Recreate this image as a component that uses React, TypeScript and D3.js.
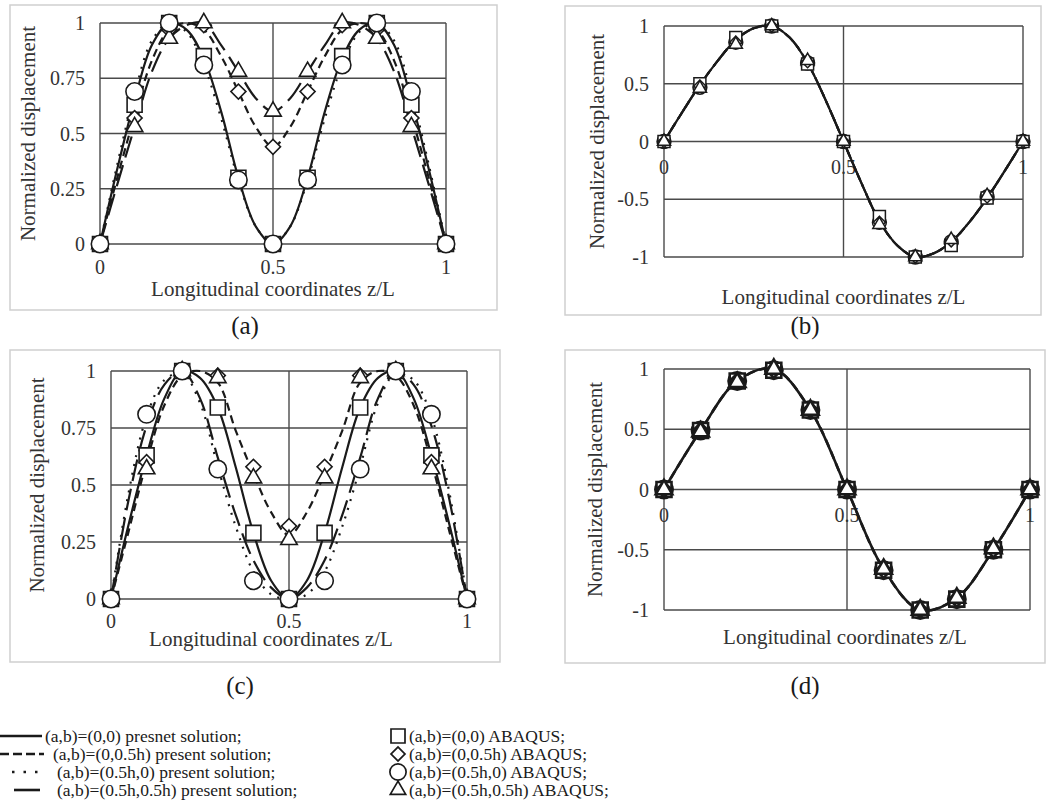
import * as d3 from "d3";

// sample positions along the beam
const xMarks = [0, 0.1, 0.2, 0.3, 0.4, 0.5, 0.6, 0.7, 0.8, 0.9, 1];
const xFine = [0, 0.05, 0.1, 0.15, 0.2, 0.25, 0.3, 0.35, 0.4, 0.45, 0.5, 0.55, 0.6, 0.65, 0.7, 0.75, 0.8, 0.85, 0.9, 0.95, 1];

const xTicks = [0, 0.5, 1];
const xTickLabels = ["0", "0.5", "1"];
const yTicksPos = [0, 0.25, 0.5, 0.75, 1];
const yTickLabelsPos = ["0", "0.25", "0.5", "0.75", "1"];
const yTicksSym = [-1, -0.5, 0, 0.5, 1];
const yTickLabelsSym = ["-1", "-0.5", "0", "0.5", "1"];

// (a) present solution
const aSolid = [0, 0.34, 0.65, 0.9, 1.0, 0.97, 0.84, 0.6, 0.3, 0.08, 0, 0.08, 0.3, 0.6, 0.84, 0.97, 1.0, 0.9, 0.65, 0.34, 0];
const aDashed = [0, 0.3, 0.58, 0.83, 0.97, 1.0, 0.97, 0.85, 0.69, 0.53, 0.44, 0.53, 0.69, 0.85, 0.97, 1.0, 0.97, 0.83, 0.58, 0.3, 0];
const aDotted = [0, 0.36, 0.68, 0.92, 1.0, 0.96, 0.81, 0.57, 0.29, 0.08, 0, 0.08, 0.29, 0.57, 0.81, 0.96, 1.0, 0.92, 0.68, 0.36, 0];
const aLongDash = [0, 0.27, 0.53, 0.78, 0.93, 0.99, 1.0, 0.9, 0.78, 0.66, 0.6, 0.66, 0.78, 0.9, 1.0, 0.99, 0.93, 0.78, 0.53, 0.27, 0];
// (a) ABAQUS
const aSquare = [0, 0.63, 1, 0.85, 0.3, 0, 0.3, 0.85, 1, 0.63, 0];
const aDiamond = [0, 0.57, 0.97, 0.99, 0.69, 0.44, 0.69, 0.99, 0.97, 0.57, 0];
const aCircle = [0, 0.69, 1, 0.81, 0.29, 0, 0.29, 0.81, 1, 0.69, 0];
const aTriangle = [0, 0.53, 0.93, 1, 0.78, 0.6, 0.78, 1, 0.93, 0.53, 0];

// (b) present solution (all four cases coincide)
const bPresent = [0, 0.25, 0.49, 0.7, 0.88, 0.98, 1.0, 0.9, 0.68, 0.36, 0, -0.36, -0.69, -0.9, -1.0, -0.97, -0.87, -0.7, -0.49, -0.25, 0];
// (b) ABAQUS
const bSquare = [0, 0.5, 0.9, 1, 0.67, 0, -0.65, -1, -0.9, -0.49, 0];
const bDiamond = [0, 0.48, 0.86, 1, 0.69, 0, -0.7, -1, -0.86, -0.48, 0];
const bCircle = [0, 0.47, 0.86, 1, 0.68, 0, -0.7, -1, -0.87, -0.48, 0];
const bTriangle = [0, 0.46, 0.84, 1, 0.7, 0, -0.72, -1, -0.85, -0.47, 0];

// (c) present solution
const cSolid = [0, 0.33, 0.63, 0.88, 1.0, 0.97, 0.84, 0.58, 0.29, 0.08, 0, 0.08, 0.29, 0.58, 0.84, 0.97, 1.0, 0.88, 0.63, 0.33, 0];
const cDashed = [0, 0.3, 0.6, 0.85, 0.98, 1.0, 0.95, 0.74, 0.55, 0.38, 0.28, 0.38, 0.55, 0.74, 0.95, 1.0, 0.98, 0.85, 0.6, 0.3, 0];
const cDotted = [0, 0.47, 0.8, 0.96, 0.99, 0.86, 0.58, 0.32, 0.12, 0.02, 0, 0.02, 0.12, 0.32, 0.58, 0.86, 0.99, 0.96, 0.8, 0.47, 0];
const cLongDash = [0, 0.44, 0.76, 0.94, 1.0, 0.88, 0.62, 0.37, 0.17, 0.05, 0, 0.05, 0.17, 0.37, 0.62, 0.88, 1.0, 0.94, 0.76, 0.44, 0];
// (c) ABAQUS
const cSquare = [0, 0.63, 1, 0.84, 0.29, 0, 0.29, 0.84, 1, 0.63, 0];
const cDiamond = [0, 0.6, 1, 0.98, 0.58, 0.32, 0.58, 0.98, 1, 0.6, 0];
const cCircle = [0, 0.81, 1, 0.57, 0.08, 0, 0.08, 0.57, 1, 0.81, 0];
const cTriangle = [0, 0.57, 1, 0.97, 0.53, 0.26, 0.53, 0.97, 1, 0.57, 0];

// (d) present solution
const dPresent = [0, 0.49, 0.9, 1.0, 0.66, 0, -0.66, -1.0, -0.9, -0.5, 0];
// (d) ABAQUS
const dSquare = [0, 0.49, 0.9, 0.99, 0.66, 0, -0.67, -1, -0.91, -0.5, 0];
const dDiamond = [0, 0.49, 0.9, 0.99, 0.66, 0, -0.67, -1, -0.91, -0.5, 0];
const dCircle = [0, 0.49, 0.9, 0.99, 0.66, 0, -0.67, -1, -0.91, -0.5, 0];
const dTriangle = [0, 0.48, 0.89, 1, 0.66, 0, -0.66, -1, -0.9, -0.49, 0];

const legendLines = [
  "(a,b)=(0,0) presnet solution;",
  "(a,b)=(0,0.5h) present solution;",
  "(a,b)=(0.5h,0) present solution;",
  "(a,b)=(0.5h,0.5h) present solution;",
];
const legendMarks = [
  "(a,b)=(0,0) ABAQUS;",
  "(a,b)=(0,0.5h) ABAQUS;",
  "(a,b)=(0.5h,0) ABAQUS;",
  "(a,b)=(0.5h,0.5h) ABAQUS;",
];

const FONT = "'Liberation Serif', 'Times New Roman', serif";
const INK = "#1a1a1a";
const TXT = "#333";
const DASH = { dashed: "8,5", dotted: "2,7", longdash: "22,8" };

type Line = { xs: number[]; ys: number[]; dash?: string; w?: number };
type Marks = { sq: number[]; dia: number[]; cir: number[]; tri: number[] };

type PanelProps = {
  box: [number, number, number, number];
  left: number; right: number; top: number; bottom: number;
  yDomain: [number, number];
  yTicks: number[]; yLabels: string[];
  xLabelY: number; titleY: number; titleX?: number;
  yTitleX: number;
  caption: string; capX: number; capY: number;
  lines: Line[]; marks: Marks; size: number; markStroke: number;
  circleFirst?: boolean;
};

const sym = (type: d3.SymbolType, area: number) => d3.symbol().type(type).size(area)() as string;

function markerPath(kind: string, s: number) {
  if (kind === "sq") return sym(d3.symbolSquare, s * s);
  if (kind === "dia") return sym(d3.symbolSquare, (s * s) / 2);
  if (kind === "cir") return sym(d3.symbolCircle, Math.PI * (s * 0.58) * (s * 0.58));
  return sym(d3.symbolTriangle, (Math.sqrt(3) / 4) * (s * 1.1) * (s * 1.1));
}

function Panel(p: PanelProps) {
  const x = d3.scaleLinear().domain([0, 1]).range([p.left, p.right]);
  const y = d3.scaleLinear().domain(p.yDomain).range([p.bottom, p.top]);

  const pathOf = (l: Line) =>
    d3
      .line<[number, number]>()
      .x((d) => x(d[0]))
      .y((d) => y(d[1]))
      .curve(d3.curveCatmullRom.alpha(0.5))(l.xs.map((v, i) => [v, l.ys[i]]));

  const order = p.circleFirst ? ["cir", "sq", "dia", "tri"] : ["sq", "dia", "tri", "cir"];
  const [bx, by, bw, bh] = p.box;
  const midY = (p.top + p.bottom) / 2;

  return (
    <g fontFamily={FONT}>
      <rect x={bx} y={by} width={bw} height={bh} fill="#fff" stroke="#cfcfcf" strokeWidth={1.5} />
      {p.yTicks.map((t) => (
        <line key={"h" + t} x1={p.left} x2={p.right} y1={y(t)} y2={y(t)} stroke="#4a4a4a" strokeWidth={1.4} />
      ))}
      {xTicks.map((t) => (
        <line key={"v" + t} x1={x(t)} x2={x(t)} y1={p.top} y2={p.bottom} stroke="#4a4a4a" strokeWidth={1.4} />
      ))}
      {p.yTicks.map((t, i) => (
        <text key={"yl" + t} x={p.left - 15} y={y(t)} dy="0.35em" textAnchor="end" fontSize={20} fill={TXT}>
          {p.yLabels[i]}
        </text>
      ))}
      {xTicks.map((t, i) => (
        <text key={"xl" + t} x={x(t)} y={p.xLabelY} textAnchor="middle" fontSize={20} fill={TXT}>
          {xTickLabels[i]}
        </text>
      ))}
      <text x={p.titleX ?? (p.left + p.right) / 2} y={p.titleY} textAnchor="middle" fontSize={21} fill={TXT}>
        Longitudinal coordinates z/L
      </text>
      <text
        transform={`translate(${p.yTitleX},${midY}) rotate(-90)`}
        textAnchor="middle"
        dy="0.35em"
        fontSize={21}
        fill={TXT}
      >
        Normalized displacement
      </text>
      {p.lines.map((l, i) => (
        <path key={"ln" + i} d={pathOf(l) ?? ""} fill="none" stroke={INK} strokeWidth={l.w ?? 2.2} strokeDasharray={l.dash} />
      ))}
      {order.map((k) => (
        <g key={k}>
          {xMarks.map((xv, i) => (
            <path
              key={i}
              d={markerPath(k, p.size)}
              transform={`translate(${x(xv)},${y((p.marks as any)[k][i])})${k === "dia" ? " rotate(45)" : ""}`}
              fill="#fff"
              stroke={INK}
              strokeWidth={p.markStroke}
            />
          ))}
        </g>
      ))}
      <text x={p.capX} y={p.capY} textAnchor="middle" fontSize={25} fill={INK}>
        {p.caption}
      </text>
    </g>
  );
}

function Legend() {
  const rows = [736, 754, 772, 790];
  const sampleX: [number, number, string | undefined][] = [
    [0, 42, undefined],
    [0, 44, "9,4"],
    [12, 42, "2.5,9"],
    [14, 40, undefined],
  ];
  const textX = [45, 53, 57, 57];
  const kinds = ["sq", "dia", "cir", "tri"];
  return (
    <g fontFamily={FONT} fontSize={17.5} fill={INK}>
      {rows.map((ry, i) => (
        <g key={i}>
          <line x1={sampleX[i][0]} x2={sampleX[i][1]} y1={ry} y2={ry} stroke={INK} strokeWidth={2.6} strokeDasharray={sampleX[i][2]} />
          <text x={textX[i]} y={ry} dy="0.33em">{legendLines[i]}</text>
          <path
            d={markerPath(kinds[i], 14)}
            transform={`translate(398,${ry})${kinds[i] === "dia" ? " rotate(45)" : ""}`}
            fill="#fff"
            stroke={INK}
            strokeWidth={1.7}
          />
          <text x={409} y={ry} dy="0.33em">{legendMarks[i]}</text>
        </g>
      ))}
    </g>
  );
}

export default function App() {
  return (
    <svg
      width={1054}
      height={800}
      viewBox="0 0 1054 800"
      style={{ position: "absolute", left: 0, top: 0, display: "block", background: "#fff" }}
    >
      <rect width={1054} height={800} fill="#fff" />
      <Panel
        box={[10, 5, 487, 305]}
        left={100} right={446} top={23} bottom={244}
        yDomain={[0, 1]} yTicks={yTicksPos} yLabels={yTickLabelsPos}
        xLabelY={274} titleY={296} yTitleX={28}
        caption="(a)" capX={245} capY={334}
        lines={[
          { xs: xFine, ys: aSolid },
          { xs: xFine, ys: aDotted, dash: DASH.dotted },
          { xs: xFine, ys: aDashed, dash: DASH.dashed },
          { xs: xFine, ys: aLongDash, dash: DASH.longdash },
        ]}
        marks={{ sq: aSquare, dia: aDiamond, cir: aCircle, tri: aTriangle }}
        size={15} markStroke={1.6}
      />
      <Panel
        box={[565, 6, 476, 309]}
        left={664} right={1023} top={26} bottom={257}
        yDomain={[-1, 1]} yTicks={yTicksSym} yLabels={yTickLabelsSym}
        xLabelY={174} titleY={304} yTitleX={597}
        caption="(b)" capX={805} capY={334}
        lines={[
          { xs: xFine, ys: bPresent },
          { xs: xFine, ys: bPresent, dash: DASH.dashed },
          { xs: xFine, ys: bPresent, dash: DASH.dotted },
          { xs: xFine, ys: bPresent, dash: DASH.longdash },
        ]}
        marks={{ sq: bSquare, dia: bDiamond, cir: bCircle, tri: bTriangle }}
        size={12} markStroke={1.5} circleFirst
      />
      <Panel
        box={[10, 350, 490, 312]}
        left={111} right={467} top={371} bottom={599}
        yDomain={[0, 1]} yTicks={yTicksPos} yLabels={yTickLabelsPos}
        xLabelY={628} titleY={646} titleX={271} yTitleX={37}
        caption="(c)" capX={240} capY={694}
        lines={[
          { xs: xFine, ys: cSolid },
          { xs: xFine, ys: cDotted, dash: DASH.dotted },
          { xs: xFine, ys: cDashed, dash: DASH.dashed },
          { xs: xFine, ys: cLongDash, dash: DASH.longdash },
        ]}
        marks={{ sq: cSquare, dia: cDiamond, cir: cCircle, tri: cTriangle }}
        size={15} markStroke={1.6}
      />
      <Panel
        box={[565, 350, 480, 313]}
        left={664} right={1030} top={369} bottom={610}
        yDomain={[-1, 1]} yTicks={yTicksSym} yLabels={yTickLabelsSym}
        xLabelY={522} titleY={644} titleX={845} yTitleX={595}
        caption="(d)" capX={805} capY={694}
        lines={[
          { xs: xMarks, ys: dPresent, w: 2.6 },
          { xs: xMarks, ys: dPresent, dash: DASH.dashed, w: 2.6 },
        ]}
        marks={{ sq: dSquare, dia: dDiamond, cir: dCircle, tri: dTriangle }}
        size={15} markStroke={2.6} circleFirst
      />
      <Legend />
    </svg>
  );
}
